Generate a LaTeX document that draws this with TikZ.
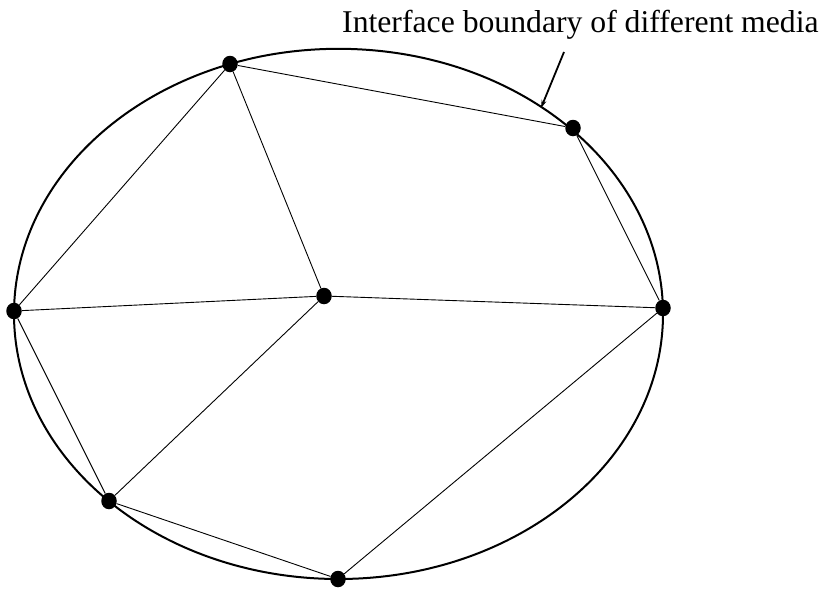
\documentclass[tikz,border=0pt]{standalone}
\usepackage{fontspec}
\setmainfont{Liberation Serif}
\usetikzlibrary{arrows.meta,shapes.geometric}
\begin{document}
\begin{tikzpicture}[x=1pt,y=-1pt,
  dot/.style={ellipse,fill=black,inner sep=0pt,minimum width=15.5pt,minimum height=16.5pt},
  edge/.style={line width=0.9pt},
  bound/.style={line width=2pt},
  lbl/.style={font=\fontsize{31.7}{36}\selectfont,inner sep=0pt,anchor=base west}]
\useasboundingbox (0,0) rectangle (820,589);
\draw[bound] (338.5,313.9) ellipse [x radius=324.5, y radius=265.1];
\node[dot] (a) at (230,64) {};
\node[dot] (b) at (573,128) {};
\node[dot] (c) at (14,311) {};
\node[dot] (d) at (324,296) {};
\node[dot] (e) at (663,308) {};
\node[dot] (f) at (109,501) {};
\node[dot] (g) at (338,579) {};
\draw[edge] (a) -- (b);
\draw[edge] (a) -- (c);
\draw[edge] (a) -- (d);
\draw[edge] (b) -- (e);
\draw[edge] (c) -- (d);
\draw[edge] (d) -- (e);
\draw[edge] (c) -- (f);
\draw[edge] (d) -- (f);
\draw[edge] (f) -- (g);
\draw[edge] (g) -- (e);
\node[lbl] (t) at (342,32) {Interface boundary of different media};
\coordinate (p) at (564,52);
\coordinate (q) at (541,108);
\draw[line width=1.8pt,-{Stealth[length=8pt,width=5pt]}] (p) -- (q);
\end{tikzpicture}
\end{document}
